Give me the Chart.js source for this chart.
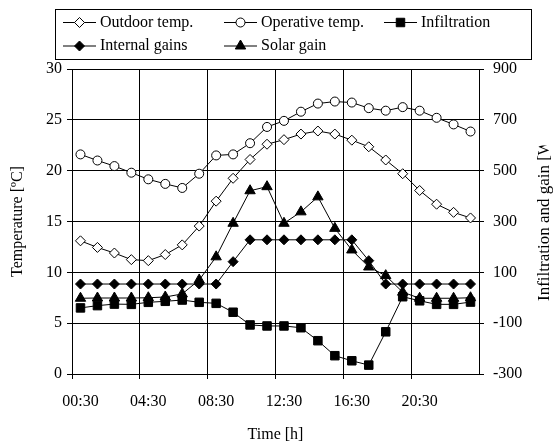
<!DOCTYPE html>
<html>
<head>
<meta charset="utf-8">
<script src="https://cdn.jsdelivr.net/npm/chart.js@4"></script>
<style>
  html, body { margin: 0; padding: 0; background: #fff; overflow: hidden; }
</style>
</head>
<body>
<canvas id="grafico" width="556" height="445"></canvas>
<script>
// time of day, one point per hour (half past)
const horas = ['00:30', '01:30', '02:30', '03:30', '04:30', '05:30', '06:30', '07:30',
    '08:30', '09:30', '10:30', '11:30', '12:30', '13:30', '14:30', '15:30',
    '16:30', '17:30', '18:30', '19:30', '20:30', '21:30', '22:30', '23:30'];

// temperatures [ºC]
const tempExterior = [13.1, 12.45, 11.9, 11.25, 11.15, 11.75, 12.7, 14.55, 17.0, 19.25, 21.1, 22.6,
    23.05, 23.6, 23.9, 23.6, 23.0, 22.35, 21.05, 19.7, 18.05, 16.7, 15.9, 15.35];
const tempOperativa = [21.6, 21.0, 20.45, 19.8, 19.15, 18.7, 18.3, 19.7, 21.5, 21.6, 22.7, 24.3,
    24.9, 25.8, 26.6, 26.8, 26.7, 26.15, 25.9, 26.25, 25.9, 25.2, 24.55, 23.85];

// infiltration and gains [W]
const infiltracao = [-40, -31, -25, -26, -18, -14, -9, -18, -22, -57, -107, -111,
    -111, -118, -169, -228, -248, -265, -134, 4, -12, -26, -26, -17];
const ganhosInternos = [54, 54, 54, 54, 54, 54, 54, 54, 54, 142, 228, 228,
    228, 228, 228, 228, 228, 146, 54, 54, 54, 54, 54, 54];
const ganhoSolar = [-2, -1, -1, -1, 0, 3, 15, 70, 161, 293, 421, 437,
    293, 338, 397, 273, 188, 121, 87, 22, -2, -2, -2, 0];

const fonte = { family: '"Liberation Serif", "Times New Roman", serif', size: 16 };
Chart.defaults.font.family = fonte.family;
Chart.defaults.font.size = fonte.size;
Chart.defaults.color = '#000';

function serie(label, data, eixo, estilo, raio, preenchimento) {
    return {
        label: label,
        data: data,
        yAxisID: eixo,
        borderColor: '#000',
        borderWidth: 1,
        pointStyle: estilo,
        pointRadius: raio,
        pointBorderWidth: 1,
        pointBorderColor: '#000',
        pointBackgroundColor: preenchimento,
        tension: 0,
        fill: false
    };
}

// legend in a box, line + marker like the original
const legendaCaixa = {
    id: 'legendaCaixa',
    afterDraw(chart) {
        const ctx = chart.ctx;
        const posicoes = [[63, 22.5], [224, 22.5], [384, 22.5], [63, 46], [224, 46]];
        ctx.save();
        ctx.strokeStyle = '#000';
        ctx.lineWidth = 1;
        ctx.strokeRect(55.5, 9.5, 476, 50);
        ctx.font = '16px ' + fonte.family;
        ctx.textBaseline = 'middle';
        ctx.textAlign = 'left';
        chart.data.datasets.forEach((ds, i) => {
            const [x, y] = posicoes[i];
            ctx.beginPath();
            ctx.moveTo(x, y);
            ctx.lineTo(x + 33, y);
            ctx.stroke();
            ctx.fillStyle = ds.pointBackgroundColor;
            Chart.helpers.drawPoint(ctx, {
                pointStyle: ds.pointStyle, radius: ds.pointRadius, borderWidth: 1, rotation: 0
            }, x + 16.5, y);
            ctx.fillStyle = '#000';
            ctx.fillText(ds.label, x + 37, y);
        });
        ctx.restore();
    }
};

// right axis title reads bottom-to-top and is cut at the top in the original
const tituloDireita = {
    id: 'tituloDireita',
    afterDraw(chart) {
        const ctx = chart.ctx;
        const texto = 'Infiltration and gain [W]';
        ctx.save();
        ctx.font = '17px ' + fonte.family;
        const inicio = 301;
        const corte = inicio - ctx.measureText('Infiltration and gain [').width
            - ctx.measureText('W').width * 0.6;
        ctx.beginPath();
        ctx.rect(0, corte, chart.width, chart.height);
        ctx.clip();
        ctx.translate(545, inicio);
        ctx.rotate(-Math.PI / 2);
        ctx.fillStyle = '#000';
        ctx.textAlign = 'left';
        ctx.textBaseline = 'middle';
        ctx.fillText(texto, 0, 0);
        ctx.restore();
    }
};

function criarGrafico() {
    const canvas = document.getElementById('grafico');

    new Chart(canvas, {
        type: 'line',
        data: {
            labels: horas,
            datasets: [
                serie('Outdoor temp.', tempExterior, 'yTemp', 'rectRot', 5, '#fff'),
                serie('Operative temp.', tempOperativa, 'yTemp', 'circle', 4.5, '#fff'),
                serie('Infiltration', infiltracao, 'yPot', 'rect', 6, '#000'),
                serie('Internal gains', ganhosInternos, 'yPot', 'rectRot', 5, '#000'),
                serie('Solar gain', ganhoSolar, 'yPot', 'triangle', 6, '#000')
            ]
        },
        options: {
            responsive: false,
            animation: false,
            layout: { padding: { top: 69, left: 0, right: 0, bottom: 0 } },
            plugins: {
                legend: { display: false },
                tooltip: { enabled: false }
            },
            scales: {
                x: {
                    offset: true,
                    grid: {
                        offset: true,
                        tickLength: 5,
                        color: (c) => c.index % 4 === 0 ? '#000' : 'rgba(0,0,0,0)'
                    },
                    border: { color: '#000' },
                    ticks: {
                        autoSkip: false,
                        maxRotation: 0,
                        padding: 13,
                        callback: (v, i) => i % 4 === 0 ? horas[i] : ''
                    },
                    title: {
                        display: true,
                        text: 'Time [h]',
                        padding: { top: 0, bottom: 1 }
                    },
                    afterFit: (s) => { s.height = 71; }
                },
                yTemp: {
                    position: 'left',
                    min: 0,
                    max: 30,
                    ticks: { stepSize: 5, padding: 5 },
                    grid: { color: '#000', tickLength: 5 },
                    border: { color: '#000' },
                    title: {
                        display: true,
                        text: 'Temperature [ºC]',
                        padding: { top: 8, bottom: 0 }
                    },
                    afterFit: (s) => { s.width = 72; }
                },
                yPot: {
                    position: 'right',
                    min: -300,
                    max: 900,
                    ticks: { stepSize: 200, padding: 9 },
                    grid: { drawOnChartArea: false, color: '#000', tickLength: 5 },
                    border: { color: '#000' },
                    afterFit: (s) => { s.width = 77; }
                }
            }
        },
        plugins: [legendaCaixa, tituloDireita]
    });
}

window.onload = function () {
    criarGrafico();
};
</script>
</body>
</html>
